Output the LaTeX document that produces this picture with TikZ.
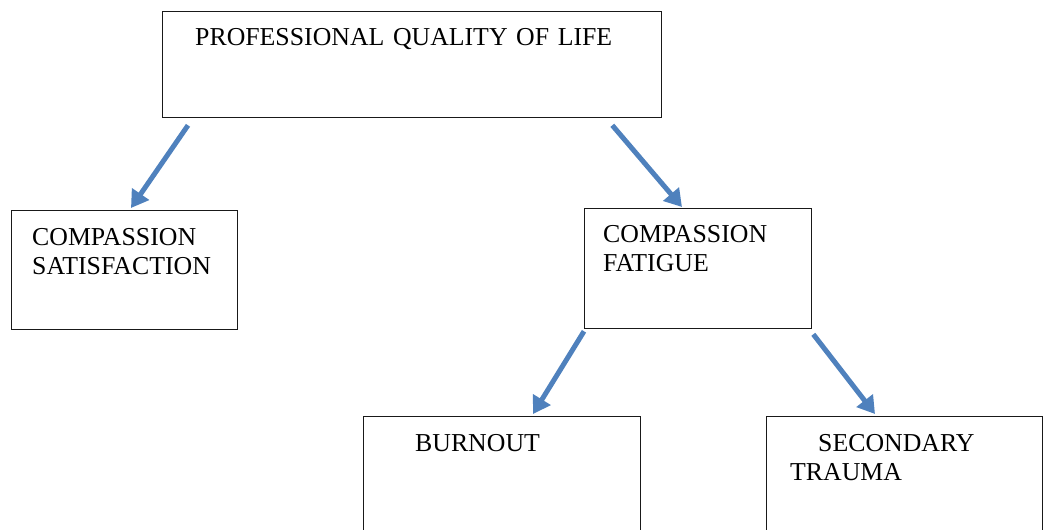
\documentclass[tikz,border=0pt]{standalone}
\usepackage{fontspec}
\setmainfont{Liberation Serif}
\usetikzlibrary{arrows.meta}
\definecolor{arrowblue}{HTML}{4F81BD}

\begin{document}
\begin{tikzpicture}[x=1pt,y=-1pt,
		box/.style={rectangle,draw=black!90,line width=1.3pt,anchor=north west,inner sep=0pt},
		boxtext/.style={anchor=base west,inner sep=0pt,align=left,text width=460pt,
			font=\fontsize{25.8}{29.5}\selectfont},
		link/.style={-{Triangle[length=17pt,width=20pt]},draw=arrowblue,line width=5pt}]
		
		\useasboundingbox (0,0) rectangle (1047,530);
		\clip (0,0) rectangle (1047,530);
		
		\node[box,minimum width=499pt,minimum height=106pt] (pqol) at (162,11) {};
		\node[box,minimum width=226pt,minimum height=119pt] (satis) at (11,210) {};
		\node[box,minimum width=227pt,minimum height=120pt] (fatigue) at (584,208) {};
		\node[box,minimum width=277pt,minimum height=130pt] (burnout) at (363,416) {};
		\node[box,minimum width=276pt,minimum height=130pt] (trauma) at (766,416) {};
		
		\node[boxtext] (pqol text) at ([shift={(33,34)}]pqol.north west) {PROFESSIONAL QUALITY OF LIFE};
		\node[boxtext] (satis text) at ([shift={(21,35)}]satis.north west) {COMPASSION\\SATISFACTION};
		\node[boxtext] (fatigue text) at ([shift={(19,34)}]fatigue.north west) {COMPASSION\\FATIGUE};
		\node[boxtext] (burnout text) at ([shift={(52,35)}]burnout.north west) {BURNOUT};
		\node[boxtext] (trauma text) at ([shift={(24,35)}]trauma.north west) {\hspace*{28pt}SECONDARY\\TRAUMA};
		
		\draw[link] ([shift={(26,7)}]pqol.south west) -- ([shift={(120,-2)}]satis.north west);
		\draw[link] ([shift={(-50,7)}]pqol.south east) -- ([shift={(98,-1)}]fatigue.north west);
		\draw[link] ([shift={(0,2)}]fatigue.south west) -- ([shift={(170,-2)}]burnout.north west);
		\draw[link] ([shift={(1,5)}]fatigue.south east) -- ([shift={(109,-2)}]trauma.north west);
		\end{tikzpicture}
\end{document}
